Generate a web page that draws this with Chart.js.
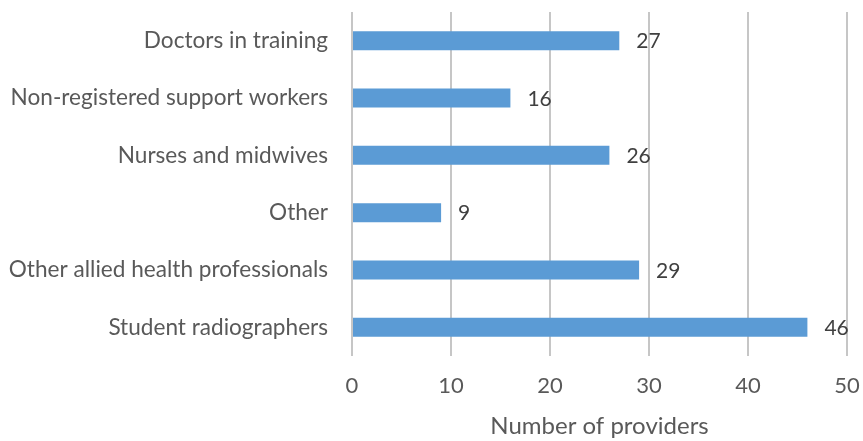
<!DOCTYPE html>
<html>
<head>
<meta charset="utf-8">
<script src="https://cdn.jsdelivr.net/npm/chart.js@4/dist/chart.umd.min.js"></script>
<style>
  html, body { margin: 0; padding: 0; background: #fff; }
  #wrap { width: 863px; height: 441px; }
</style>
</head>
<body>
<div id="wrap"><canvas id="chart"></canvas></div>
<script>
const categories = [
  'Doctors in training',
  'Non-registered support workers',
  'Nurses and midwives',
  'Other',
  'Other allied health professionals',
  'Student radiographers'
];
const providers = [27, 16, 26, 9, 29, 46];
const xTicks = [0, 10, 20, 30, 40, 50];

const FONT = 'Lato, "Open Sans", sans-serif';

// 棒の右に数値を描く
const valueLabels = {
  id: 'valueLabels',
  afterDatasetsDraw(chart) {
    const ctx = chart.ctx;
    const meta = chart.getDatasetMeta(0);
    ctx.save();
    ctx.font = '21px ' + FONT;
    ctx.fillStyle = '#404040';
    ctx.textAlign = 'left';
    ctx.textBaseline = 'middle';
    meta.data.forEach((bar, i) => {
      ctx.fillText(String(providers[i]), bar.x + 17, bar.y + 1);
    });
    ctx.restore();
  }
};

new Chart(document.getElementById('chart'), {
  type: 'bar',
  data: {
    labels: categories,
    datasets: [{
      data: providers,
      backgroundColor: '#5b9bd5',
      categoryPercentage: 1,
      barPercentage: 0.33
    }]
  },
  options: {
    indexAxis: 'y',
    responsive: true,
    maintainAspectRatio: false,
    animation: false,
    layout: { padding: { top: 12, right: 16, left: 0, bottom: 0 } },
    scales: {
      x: {
        min: 0,
        max: 50,
        afterBuildTicks: axis => { axis.ticks = xTicks.map(v => ({ value: v })); },
        afterFit: axis => {
          axis.height = 85;
          axis.paddingLeft = 0;
          axis.paddingRight = 0;
        },
        grid: { color: '#c6c6c6', lineWidth: 2, drawTicks: false },
        border: { display: false },
        ticks: { color: '#595959', font: { family: FONT, size: 22 }, padding: 17 },
        title: {
          display: true,
          text: 'Number of providers',
          color: '#595959',
          font: { family: FONT, size: 24 },
          padding: { top: 4, bottom: 0 }
        }
      },
      y: {
        afterFit: axis => {
          axis.width = 352;
          axis.paddingTop = 0;
          axis.paddingBottom = 0;
        },
        grid: { display: false, drawTicks: false },
        border: { display: false },
        ticks: { color: '#595959', font: { family: FONT, size: 22.6 }, padding: 24 }
      }
    },
    plugins: {
      legend: { display: false },
      tooltip: { enabled: false }
    }
  },
  plugins: [valueLabels]
});
</script>
</body>
</html>
